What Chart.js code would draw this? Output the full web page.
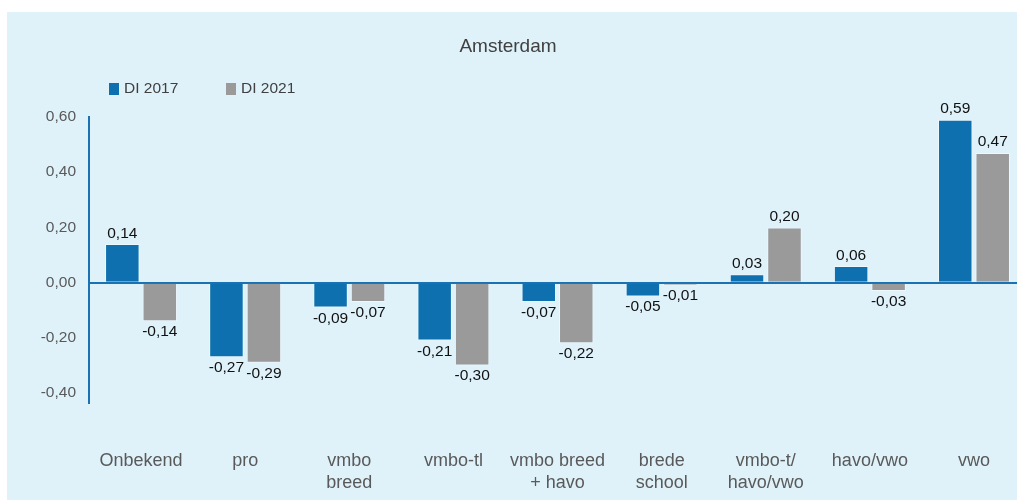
<!DOCTYPE html>
<html>
<head>
<meta charset="utf-8">
<script src="https://cdn.jsdelivr.net/npm/chart.js@4"></script>
<style>
  html, body { margin: 0; padding: 0; background: #fff; overflow: hidden; }
  #panel { position: absolute; left: 7px; top: 12px; width: 1022px; height: 488px; background: #dff2fa; }
</style>
</head>
<body>
<div id="panel"><canvas id="bar-chart" width="1022" height="488"></canvas></div>
<script>
var categories = ["Onbekend", ["pro"], ["vmbo", "breed"], ["vmbo-tl"], ["vmbo breed", "+ havo"], ["brede", "school"], ["vmbo-t/", "havo/vwo"], ["havo/vwo"], ["vwo"]];
var di2017 = [0.14, -0.27, -0.09, -0.21, -0.07, -0.05, 0.03, 0.06, 0.59];
var di2021 = [-0.14, -0.29, -0.07, -0.30, -0.22, -0.01, 0.20, -0.03, 0.47];
var yTicks = [-0.40, -0.20, 0.00, 0.20, 0.40, 0.60];

var FONT = "'Liberation Sans', Arial, sans-serif";
var BLUE = "#0e70ae";
var GRAY = "#9a9a9a";
var AXIS = "#1a72b4";

function fmt(v) { return v.toFixed(2).replace('.', ','); }

// title, legend and value labels
var decor = {
    id: 'decor',
    afterDraw: function(chart) {
        var ctx = chart.ctx;
        ctx.save();
        ctx.font = "19px " + FONT;
        ctx.fillStyle = "#404040";
        ctx.textAlign = "center";
        ctx.textBaseline = "middle";
        ctx.fillText("Amsterdam", 501, 35);

        var items = [["DI 2017", BLUE, 102], ["DI 2021", GRAY, 219]];
        ctx.font = "15.5px " + FONT;
        ctx.textAlign = "left";
        items.forEach(function(it) {
            ctx.fillStyle = it[1];
            ctx.fillRect(it[2], 71, 10, 12);
            ctx.fillStyle = "#404040";
            ctx.fillText(it[0], it[2] + 15, 77);
        });

        ctx.font = "15.5px " + FONT;
        ctx.fillStyle = "#111";
        ctx.textAlign = "center";
        chart.data.datasets.forEach(function(ds, i) {
            chart.getDatasetMeta(i).data.forEach(function(bar, j) {
                var v = ds.data[j];
                if (v >= 0) {
                    ctx.textBaseline = "bottom";
                    ctx.fillText(fmt(v), bar.x, bar.y - 3);
                } else {
                    ctx.textBaseline = "top";
                    ctx.fillText(fmt(v), bar.x, bar.y + 3);
                }
            });
        });
        ctx.restore();
    }
};

new Chart(document.getElementById("bar-chart"), {
    type: 'bar',
    data: {
        labels: categories,
        datasets: [
            { label: "DI 2017", data: di2017, backgroundColor: BLUE, borderColor: "rgba(255,255,255,0.45)", borderWidth: 1 },
            { label: "DI 2021", data: di2021, backgroundColor: GRAY, borderColor: "rgba(255,255,255,0.45)", borderWidth: 1 }
        ]
    },
    options: {
        responsive: false,
        animation: false,
        categoryPercentage: 0.72,
        barPercentage: 0.92,
        layout: { padding: { left: 32, top: 105, right: 0, bottom: 4 } },
        plugins: {
            legend: { display: false },
            title: { display: false },
            tooltip: { enabled: false }
        },
        scales: {
            x: {
                grid: { display: false },
                border: { display: false },
                afterFit: function(scale) { scale.height = 93; },
                ticks: { color: "#595959", font: { family: FONT, size: 18, lineHeight: 1.22 }, padding: 39, maxRotation: 0, autoSkip: false }
            },
            y: {
                min: -0.436,
                max: 0.6,
                afterBuildTicks: function(scale) {
                    scale.ticks = yTicks.map(function(v) { return { value: v }; });
                },
                afterFit: function(scale) { scale.width = 50; },
                grid: {
                    drawTicks: false,
                    color: function(c) { return c.tick && c.tick.value === 0 ? AXIS : 'transparent'; },
                    lineWidth: 2
                },
                border: { display: true, color: AXIS, width: 2 },
                ticks: {
                    color: "#595959",
                    font: { family: FONT, size: 15.5 },
                    padding: 13,
                    callback: function(v) { return fmt(v); }
                }
            }
        }
    },
    plugins: [decor]
});
</script>
</body>
</html>
